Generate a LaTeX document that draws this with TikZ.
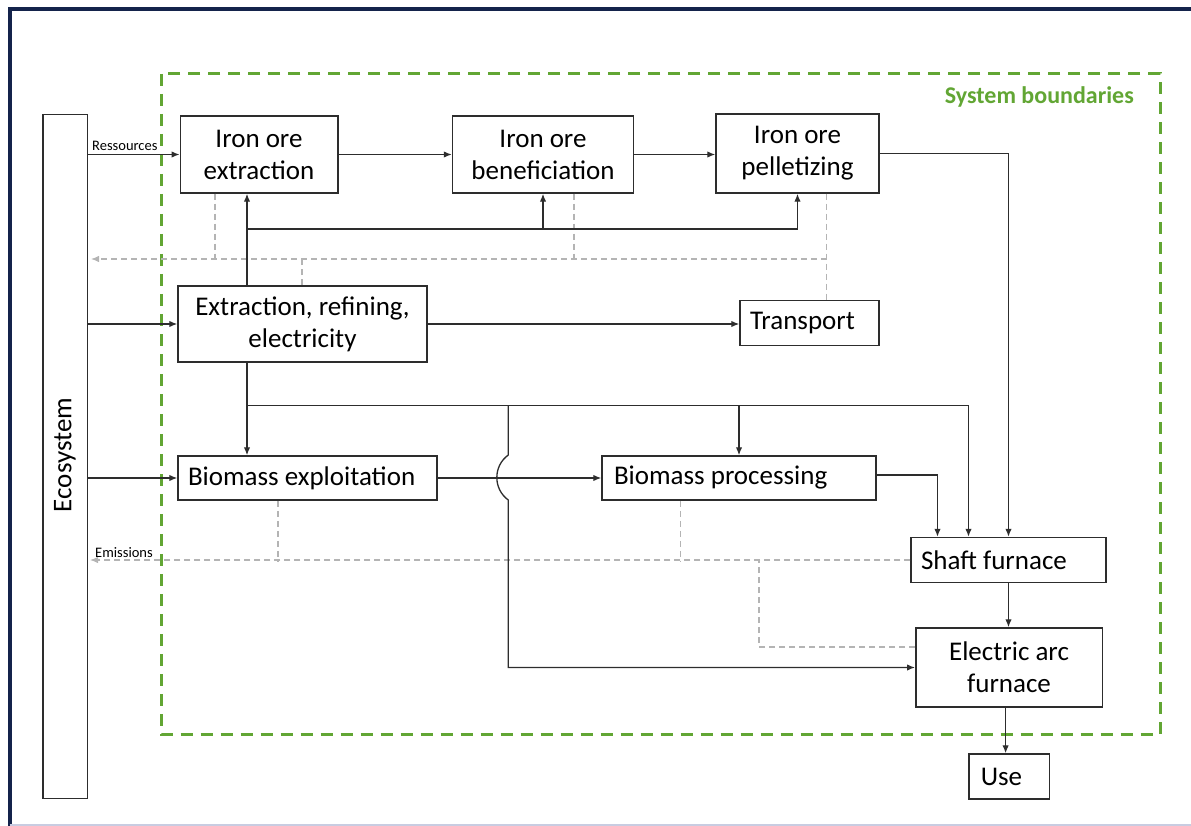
\documentclass[tikz,border=0pt]{standalone}
\usepackage{fontspec}
\setmainfont{Carlito}
\usetikzlibrary{arrows.meta}
\definecolor{navy}{RGB}{20,35,75}
\definecolor{lightframe}{RGB}{200,204,225}
\definecolor{sysgreen}{RGB}{98,166,52}
\definecolor{linec}{RGB}{45,45,45}
\definecolor{emc}{RGB}{180,180,180}
\tikzset{
  procbox/.style={draw=linec, line width=1.5pt, inner sep=0pt, align=center,
    font=\fontsize{27}{32}\selectfont, text=black},
  leftbox/.style={procbox, align=flush left},
  flow/.style={draw=linec, line width=1.3pt, -{Latex[length=8pt,width=6.5pt]}},
  emis/.style={draw=emc, line width=1.2pt, dash pattern=on 6pt off 4pt},
  emisarrow/.style={emis, -{Latex[length=8pt,width=6.5pt]}},
  smalllab/.style={font=\fontsize{14.5}{16}\selectfont, text=black, inner sep=0pt}
}
\begin{document}
\begin{tikzpicture}[x=1pt,y=-1pt]
\useasboundingbox (0,0) rectangle (1191,826);
% outer frame
\draw[navy, line width=4pt] (9.5,826) -- (9.5,9.5) -- (1191,9.5);
\draw[lightframe, line width=2pt] (9.5,825) -- (1191,825);
% system boundaries
\draw[sysgreen, line width=3pt, dash pattern=on 12pt off 8pt] (161,74) rectangle (1160,734.5);
\node[text=sysgreen, font=\fontsize{24}{28}\selectfont\bfseries, anchor=east, inner sep=0pt] (sb) at (1134,96.5) {System boundaries};

% nodes
\node[procbox, minimum width=44.5pt, minimum height=684pt] (eco) at (65,456.5) {};
\node[rotate=90, font=\fontsize{27}{32}\selectfont, inner sep=0pt] (ecot) at (65,455) {Ecosystem};
\node[procbox, minimum width=157.5pt, minimum height=77pt] (ioe) at (259,154.5) {Iron ore\\extraction};
\node[procbox, minimum width=181pt, minimum height=77pt] (iob) at (543,154.5) {Iron ore\\beneficiation};
\node[procbox, minimum width=163pt, minimum height=79pt] (iop) at (797.5,153.5) {Iron ore\\pelletizing};
\node[procbox, minimum width=249pt, minimum height=76pt] (erf) at (302.5,324) {Extraction, refining,\\electricity};
\node[leftbox, minimum width=139pt, minimum height=45pt, text width=119pt, inner xsep=10pt] (tra) at (809.5,323) {Transport};
\node[leftbox, minimum width=259pt, minimum height=44pt, text width=239pt, inner xsep=10pt] (bex) at (307.5,478) {Biomass exploitation};
\node[leftbox, minimum width=274pt, minimum height=44pt, text width=250pt, inner xsep=12pt] (bpr) at (739,478) {Biomass processing};
\node[leftbox, minimum width=195pt, minimum height=45pt, text width=175pt, inner xsep=10pt] (shf) at (1008.5,560) {Shaft furnace};
\node[procbox, minimum width=186.5pt, minimum height=79pt] (eaf) at (1009,667.5) {Electric arc\\furnace};
\node[leftbox, minimum width=80.5pt, minimum height=45pt, text width=56.5pt, inner xsep=12pt] (use) at (1009,776.5) {Use};

% helper coordinates
\coordinate (c1) at (247,229);
\coordinate (c2) at (247,405.5);
\coordinate (c3) at (968.5,405.5);
\coordinate (c4) at (508.3,405.5);
\coordinate (c5) at (937.5,0);
\coordinate (c6) at (1005.6,0);
\coordinate (e1) at (826.5,259);
\coordinate (d1) at (215,259);
\coordinate (d2) at (574,259);
\coordinate (d3) at (302,259);
\coordinate (d4) at (278,561);
\coordinate (d5) at (680.5,561);
\coordinate (d6) at (759,561);
\coordinate (d7) at (759,647);

% emissions (dashed)
\draw[emisarrow, shorten >=3pt] (e1) -- (eco.east |- e1);
\draw[emis] (iop.south -| e1) -- (tra.north -| e1);
\draw[emis] (ioe.south -| d1) -- (d1);
\draw[emis] (iob.south -| d2) -- (d2);
\draw[emis] (erf.north -| d3) -- (d3);
\draw[emisarrow, shorten >=2pt] (shf.west) -- (eco.east |- shf.west);
\draw[emis] (bex.south -| d4) -- (d4);
\draw[emis] (bpr.south -| d5) -- (d5);
\draw[emis] (eaf.west |- d7) -- (d7) -- (d6);
\node[smalllab, anchor=south west] (emlab) at (95,558) {Emissions};

% flows
\draw[flow] (eco.east |- ioe.west) -- (ioe.west);
\node[smalllab, anchor=south west] (reslab) at (92,151) {Ressources};
\draw[flow] (eco.east |- erf.west) -- (erf.west);
\draw[flow] (eco.east |- bex.west) -- (bex.west);
\draw[flow] (ioe.east) -- (iob.west);
\draw[flow] (iob.east) -- (iob.east -| iop.west);
\draw[flow] (iop.east) -| (shf.north);
\draw[flow] (erf.north -| c1) -- (ioe.south -| c1);
\draw[flow] (c1) -| (iop.south);
\draw[flow] (iob.south |- c1) -- (iob.south);
\draw[flow] (erf.east) -- (erf.east -| tra.west);
\draw[flow] (erf.south -| c2) -- (bex.north -| c2);
\draw[flow] (c2) -- (c3) -- (c3 |- shf.north);
\draw[flow] (bpr.north |- c2) -- (bpr.north);
\draw[flow] (c4) -- (508.3,455) .. controls (493,466) and (493,489) .. (508.3,500) -- (c4 |- eaf.west) -- (eaf.west);
\draw[flow] (bex.east) -- (bpr.west);
\draw[flow] ([yshift=3pt]bpr.east) -| (shf.north -| c5);
\draw[flow] (shf.south) -- (shf.south |- eaf.north);
\draw[flow] (eaf.south -| c6) -- (use.north -| c6);
\end{tikzpicture}
\end{document}
